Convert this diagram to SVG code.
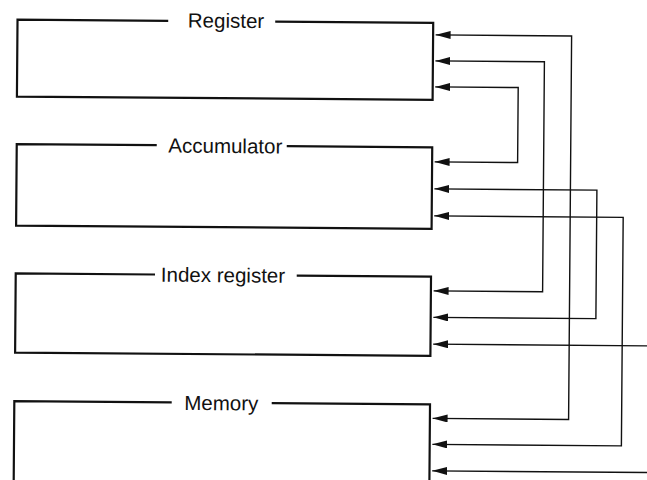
<svg xmlns="http://www.w3.org/2000/svg" width="647" height="480" viewBox="0 0 647 480">
  <style>
    .box { fill: none; stroke: #111; stroke-width: 2.2; stroke-linejoin: miter; }
    .lbl { font-family: "Liberation Sans", Arial, Helvetica, sans-serif; font-size: 20.5px; fill: #111; text-anchor: middle; }
    .wire { fill: none; stroke: #111; stroke-width: 1.4; }
    .both { marker-start: url(#ah-start); marker-end: url(#ah); }
    .one { marker-end: url(#ah); }
  </style>
  <defs>
    <marker id="ah" viewBox="0 0 15 8" refX="15" refY="4" markerWidth="15" markerHeight="8" markerUnits="userSpaceOnUse" orient="auto">
      <path d="M0,0 L15,4 L0,8 z" fill="#111"/>
    </marker>
    <marker id="ah-start" viewBox="0 0 15 8" refX="15" refY="4" markerWidth="15" markerHeight="8" markerUnits="userSpaceOnUse" orient="auto-start-reverse">
      <path d="M0,0 L15,4 L0,8 z" fill="#111"/>
    </marker>
  </defs>
  <rect width="647" height="480" fill="#fff"/>
  <g transform="rotate(0.45 323 240)">
    <g id="register">
      <path class="box" d="M166.5,22 H15.8 V99 H431.5 V22 H273.5"/>
      <text class="lbl" x="224.3" y="28.5">Register</text>
    </g>
    <g id="accumulator">
      <path class="box" d="M156,146.5 H16 V228 H431.5 V146.5 H286"/>
      <text class="lbl" x="224.6" y="153.8">Accumulator</text>
    </g>
    <g id="index-register">
      <path class="box" d="M155.3,275.8 H16 V355 H431.3 V275.8 H297"/>
      <text class="lbl" x="223.3" y="283">Index register</text>
    </g>
    <g id="memory">
      <path class="box" d="M173,403.6 H15.6 V484 H431.3 V403.6 H273"/>
      <text class="lbl" x="222.6" y="411">Memory</text>
    </g>
    <g id="connectors">
      <path class="wire both" d="M434,34 H570 V417.5 H434"/>
      <path class="wire both" d="M434,60 H543 V290 H434"/>
      <path class="wire both" d="M434,86 H517 V161 H434"/>
      <path class="wire both" d="M434,188 H596.5 V316.5 H434"/>
      <path class="wire both" d="M434,215 H623 V443.5 H434"/>
      <path class="wire one" d="M662,343.3 H434"/>
      <path class="wire one" d="M662,470 H434"/>
    </g>
  </g>
</svg>
